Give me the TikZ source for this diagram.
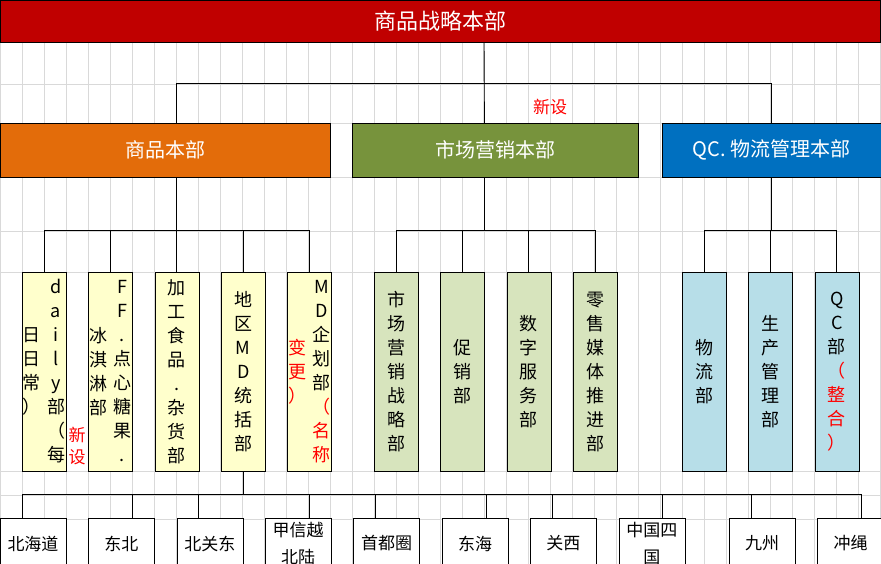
\documentclass[tikz,border=0pt]{standalone}
\usepackage{fontspec}
\setmainfont{Noto Sans CJK SC}
\usetikzlibrary{positioning}

\definecolor{hqred}{RGB}{192,0,0}
\definecolor{deporange}{RGB}{227,108,10}
\definecolor{depgreen}{RGB}{119,147,60}
\definecolor{depblue}{RGB}{0,112,192}
\definecolor{unityellow}{RGB}{255,255,204}
\definecolor{unitgreen}{RGB}{215,228,189}
\definecolor{unitblue}{RGB}{183,222,232}
\definecolor{gridgray}{RGB}{217,217,217}

\tikzset{
  hq/.style={draw, fill=hqred, text=white, minimum width=880pt, minimum height=42pt,
    inner sep=0pt, font=\fontsize{22}{26}\selectfont},
  dept/.style={draw, text=white, minimum height=54pt, inner sep=0pt,
    font=\fontsize{20}{24}\selectfont},
  unit/.style={draw, minimum width=44pt, minimum height=199pt, inner sep=0pt},
  region/.style={draw, fill=white, minimum width=66pt, minimum height=50pt, inner sep=0pt,
    align=center, font=\fontsize{17}{27}\selectfont},
  vtext/.style={align=center, inner sep=0pt, font=\fontsize{18}{24}\selectfont},
  newlbl/.style={text=red, inner sep=0pt, align=center, font=\fontsize{17}{22}\selectfont},
  gridln/.style={draw=gridgray, line width=0.8pt},
  link/.style={line width=0.9pt}
}

\begin{document}
\begin{tikzpicture}[x=1pt, y=-1pt]
      \useasboundingbox (0,0) rectangle (881,564);
      \clip (0,0) rectangle (881,564);
      \fill[white] (0,0) rectangle (881,564);
      % Sheet grid
      \foreach \x in {0,22,...,880} \draw[gridln] (\x,0) -- (\x,564);
      \foreach \y in {42,84,123,177,231,272,471,495,519} \draw[gridln] (0,\y) -- (880,\y);
      % Define nodes
      \node[hq] (hq) at (440,21) {商品战略本部};
      \node[dept, fill=deporange, minimum width=330pt] (sp) at (165,150) {商品本部};
      \node[dept, fill=depgreen, minimum width=286pt, right=22pt of sp] (mkt) {市场营销本部};
      \node[dept, fill=depblue, minimum width=219pt, right=23pt of mkt] (qc) {QC. 物流管理本部};
      \node[newlbl] (new1) at (550,107) {新设};
      % Product units
      \node[unit, fill=unityellow] (y1) at (44,371.5) {};
      \node[unit, fill=unityellow, right=22pt of y1] (y2) {};
      \node[unit, fill=unityellow, right=22pt of y2] (y3) {};
      \node[unit, fill=unityellow, right=22pt of y3] (y4) {};
      \node[unit, fill=unityellow, right=22pt of y4] (y5) {};
      \node[vtext, xshift=12pt] (y1r) at (y1) {d\\a\\i\\l\\y\\部\\（\\每};
      \node[vtext, xshift=-12pt] (y1l) at (y1) {日\\日\\常\\）};
      \node[newlbl] (new2) at (77,446) {新\\设};
      \node[vtext, xshift=12pt] (y2r) at (y2) {F\\F\\.\\点\\心\\糖\\果\\.};
      \node[vtext, xshift=-12pt] (y2l) at (y2) {冰\\淇\\淋\\部};
      \node[vtext] (y3t) at (y3) {加\\工\\食\\品\\.\\杂\\货\\部};
      \node[vtext] (y4t) at (y4) {地\\区\\M\\D\\统\\括\\部};
      \node[vtext, xshift=12pt] (y5r) at (y5) {M\\D\\企\\划\\部\\\textcolor{red}{（}\\\textcolor{red}{名}\\\textcolor{red}{称}};
      \node[vtext, xshift=-12pt, text=red] (y5l) at (y5) {变\\更\\）};
      % Marketing units
      \node[unit, fill=unitgreen] (g1) at (396,371.5) {};
      \node[unit, fill=unitgreen, right=22pt of g1] (g2) {};
      \node[unit, fill=unitgreen, right=22pt of g2] (g3) {};
      \node[unit, fill=unitgreen, right=22pt of g3] (g4) {};
      \node[vtext] (g1t) at (g1) {市\\场\\营\\销\\战\\略\\部};
      \node[vtext] (g2t) at (g2) {促\\销\\部};
      \node[vtext] (g3t) at (g3) {数\\字\\服\\务\\部};
      \node[vtext] (g4t) at (g4) {零\\售\\媒\\体\\推\\进\\部};
      % QC and logistics units
      \node[unit, fill=unitblue] (b1) at (704,371.5) {};
      \node[unit, fill=unitblue, right=22pt of b1] (b2) {};
      \node[unit, fill=unitblue, right=22pt of b2] (b3) {};
      \node[vtext] (b1t) at (b1) {物\\流\\部};
      \node[vtext] (b2t) at (b2) {生\\产\\管\\理\\部};
      \node[vtext] (b3t) at (b3) {Q\\C\\部\\\textcolor{red}{（}\\\textcolor{red}{整}\\\textcolor{red}{合}\\\textcolor{red}{）}};
      % Regions
      \node[region] (r1) at (33,543.5) {北海道};
      \node[region, right=22pt of r1] (r2) {东北};
      \node[region, right=22pt of r2] (r3) {北关东};
      \node[region, right=22pt of r3] (r4) {甲信越\\北陆};
      \node[region, right=22pt of r4] (r5) {首都圈};
      \node[region, right=22pt of r5] (r6) {东海};
      \node[region, right=22pt of r6] (r7) {关西};
      \node[region, right=22pt of r7] (r8) {中国四\\国};
      \node[region, right=44pt of r8] (r9) {九州};
      \node[region, right=22pt of r9] (r10) {冲绳};
      % Connect nodes
      \draw[link] ([xshift=44pt]hq.south) -- ([xshift=-11pt]mkt.north);
      \draw[link] ([xshift=11pt]sp.north) -- ++(0,-39) -| (qc.north);
      \draw[link] ([xshift=11pt]sp.south) -- ++(0,54);
      \draw[link] (y1.north) -- ++(0,-41) -| (y5.north);
      \foreach \n in {y2,y3,y4} \draw[link] (\n.north) -- ++(0,-41);
      \draw[link] ([xshift=-11pt]mkt.south) -- ++(0,54);
      \draw[link] (g1.north) -- ++(0,-41) -| (g4.north);
      \foreach \n in {g2,g3} \draw[link] (\n.north) -- ++(0,-41);
      \draw[link] (qc.south) -- ++(0,54);
      \draw[link] (b1.north) -- ++(0,-41) -| (b3.north);
      \draw[link] (b2.north) -- ++(0,-41);
      \draw[link] (y4.south) -- ++(0,24);
      \draw[link] ([xshift=-11pt]r1.north) -- ++(0,-24) -| ([xshift=11pt]r10.north);
      \foreach \n/\s in {r2/11,r3/-11,r4/11,r5/-11,r6/11,r7/-11,r8/11,r9/-11}
        \draw[link] ([xshift=\s pt]\n.north) -- ++(0,-24);
    \end{tikzpicture}
\end{document}
